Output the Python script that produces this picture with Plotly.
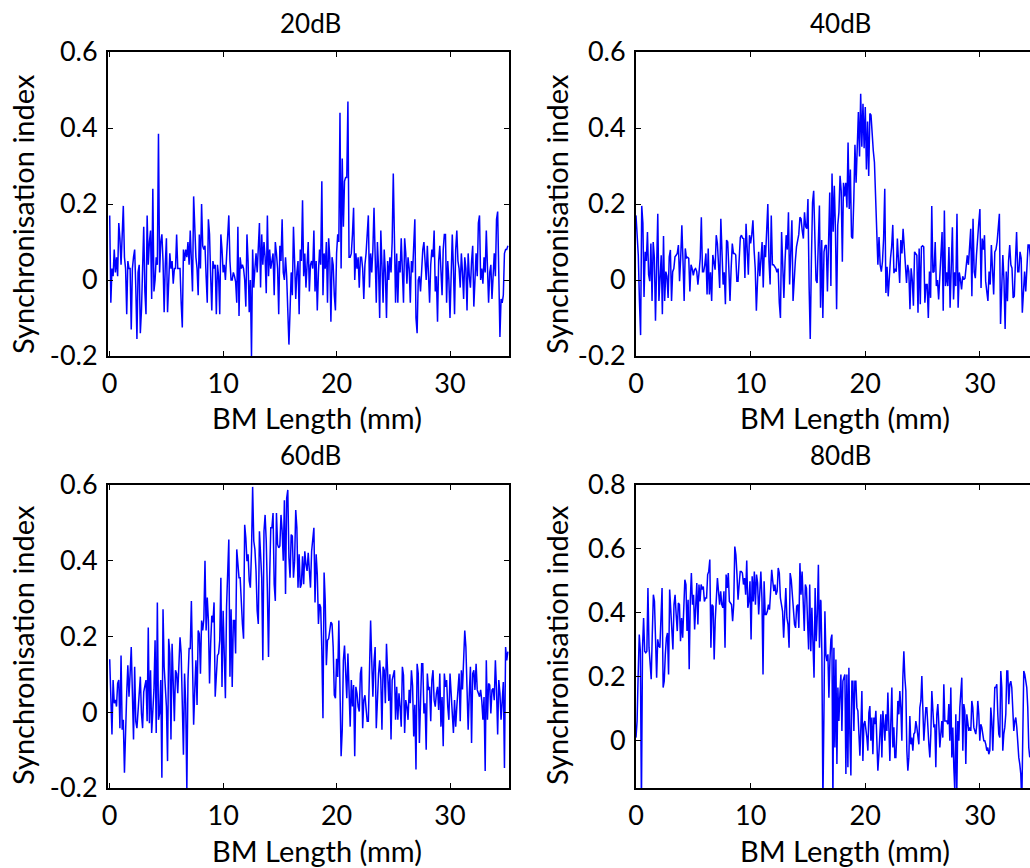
import numpy as np
import plotly.graph_objects as go

# ---------------- data ----------------
panel_titles = ["20dB", "40dB", "60dB", "80dB"]
x_title = "BM Length (mm)"
y_title = "Synchronisation index"
x_tick_vals = [0, 10, 20, 30]
x_tick_text = ["0", "10", "20", "30"]
y_tick_vals_a = [-0.2, 0, 0.2, 0.4, 0.6]
y_tick_text_a = ["-0.2", "0", "0.2", "0.4", "0.6"]
y_tick_vals_b = [0, 0.2, 0.4, 0.6, 0.8]
y_tick_text_b = ["0", "0.2", "0.4", "0.6", "0.8"]
step_mm = 0.1

si_20db = [
    0.17, -0.06, 0.03, 0.01, 0.08, 0.02, 0.06, 0.01, 0.15, 0.11,
    0.04, 0.12, 0.195, 0.06, 0.03, -0.09, 0.05, 0.03, 0.03, -0.13,
    0.03, 0.06, 0.08, -0.02, -0.155, 0.02, 0.04, -0.14, -0.08, 0.03,
    0.14, -0.03, -0.09, 0.17, 0.04, 0.10, 0.13, -0.05, 0.24, -0.03,
    0.0, 0.06, 0.04, 0.385, 0.02, 0.10, 0.12, 0.05, -0.085, 0.04,
    0.11, -0.085, 0.03, 0.07, 0.03, 0.05, -0.01, 0.03, 0.03, 0.12,
    0.03, 0.03, 0.03, -0.06, -0.125, 0.08, 0.05, 0.08, 0.06, 0.10,
    0.04, 0.13, 0.05, -0.03, 0.22, 0.10, 0.06, 0.03, -0.04, 0.12,
    0.03, 0.20, 0.09, 0.08, 0.09, 0.01, -0.06, 0.16, 0.12, 0.01,
    -0.08, 0.05, 0.03, 0.04, -0.09, 0.04, 0.01, -0.09, 0.12, 0.08,
    0.02, 0.04, 0.0, 0.06, 0.14, 0.17, 0.05, 0.0, 0.0, 0.02,
    0.01, -0.005, -0.06, 0.14, -0.095, 0.06, 0.03, 0.04, 0.03, 0.0,
    -0.07, 0.12, 0.05, -0.085, 0.0, -0.2, 0.08, -0.02, 0.03, 0.07,
    0.02, 0.09, 0.15, -0.02, 0.12, 0.04, 0.10, 0.06, -0.035, 0.17,
    0.01, 0.08, 0.03, 0.05, 0.07, -0.04, 0.10, 0.07, 0.03, -0.09,
    0.09, 0.05, 0.16, 0.02, 0.0, 0.06, 0.01, -0.08, -0.17, -0.08,
    0.02, -0.04, 0.14, 0.05, -0.05, 0.02, 0.05, -0.09, 0.08, 0.05,
    0.21, 0.01, 0.07, -0.02, 0.04, 0.10, -0.03, 0.04, 0.05, 0.03,
    0.13, -0.03, 0.05, -0.08, 0.02, 0.08, 0.04, 0.26, -0.04, 0.07,
    0.03, 0.10, -0.06, 0.11, 0.06, -0.11, 0.06, 0.04, -0.04, -0.08,
    0.07, 0.12, 0.10, 0.44, 0.03, 0.32, 0.14, 0.26, 0.27, 0.27,
    0.47, 0.06, 0.06, 0.07, 0.12, 0.19, 0.0, 0.07, 0.03, 0.06,
    -0.02, 0.06, 0.06, 0.03, -0.05, 0.04, 0.07, 0.13, 0.17, -0.02,
    0.07, 0.02, 0.08, 0.19, 0.07, -0.06, 0.10, 0.03, -0.10, 0.13,
    0.04, -0.06, 0.08, 0.02, -0.10, 0.05, 0.0, 0.06, 0.02, 0.10,
    0.28, 0.10, -0.06, 0.07, -0.06, 0.05, 0.02, 0.11, 0.03, -0.06,
    0.11, 0.07, -0.01, 0.06, 0.03, -0.06, 0.05, 0.02, 0.09, 0.16,
    -0.10, -0.14, 0.0, 0.01, -0.03, 0.05, 0.08, 0.10, 0.05, 0.0,
    0.09, 0.03, -0.06, 0.04, 0.08, 0.06, 0.13, -0.03, 0.01, -0.11,
    0.05, 0.09, 0.02, -0.04, 0.08, 0.12, 0.12, -0.06, 0.05, 0.0,
    -0.10, 0.04, 0.12, 0.03, -0.09, 0.08, 0.13, 0.05, 0.03, -0.02,
    0.07, 0.02, -0.05, 0.06, 0.03, -0.08, 0.07, 0.01, -0.02, 0.05,
    0.09, -0.07, 0.03, 0.07, 0.01, 0.15, 0.17, 0.0, 0.03, -0.01,
    0.06, 0.02, 0.13, 0.04, -0.06, 0.02, 0.04, -0.05, 0.03, 0.07,
    0.01, 0.16, 0.18, 0.02, -0.15, -0.05, -0.06, -0.04, 0.07, 0.08,
    0.08, 0.09,
]

si_40db = [
    0.17, 0.10, 0.065, -0.055, -0.145, 0.195, 0.15, -0.045, 0.074, 0.05,
    0.126, 0.014, -0.003, 0.096, -0.055, 0.1, 0.06, -0.107, 0.074, 0.174,
    -0.055, 0.03, 0.065, -0.09, 0.116, -0.055, 0.022, 0.01, -0.047, 0.061,
    0.079, -0.055, 0.022, 0.03, 0.061, 0.065, 0.07, 0.092, -0.003, 0.06,
    0.144, 0.05, -0.055, 0.083, 0.057, 0.06, 0.057, -0.03, 0.04, 0.03,
    0.012, 0.027, 0.03, 0.022, -0.012, 0.02, 0.057, 0.165, 0.022, 0.022,
    0.04, 0.07, -0.038, 0.083, -0.038, 0.02, -0.055, 0.066, 0.04, 0.027,
    0.118, 0.096, 0.04, -0.021, 0.161, 0.057, -0.012, 0.02, -0.064, 0.105,
    0.1, 0.03, -0.055, 0.031, 0.096, 0.07, 0.07, 0.066, -0.003, -0.003,
    0.06, 0.112, 0.118, 0.11, 0.109, 0.005, 0.148, 0.06, 0.014, 0.118,
    0.096, 0.12, 0.157, 0.08, 0.031, -0.081, 0.02, 0.074, 0.01, 0.05,
    0.10, -0.02, 0.092, 0.06, 0.152, 0.2, 0.05, -0.012, 0.17, 0.04,
    0.04, 0.035, 0.031, 0.02, 0.03, -0.06, -0.1, 0.126, 0.03, -0.047,
    0.048, 0.118, 0.08, 0.178, -0.012, 0.09, 0.157, -0.055, 0.022, 0.05,
    0.087, 0.109, 0.12, 0.165, 0.161, 0.13, 0.109, 0.178, 0.14, 0.135,
    0.213, -0.016, -0.155, 0.05, 0.204, 0.235, 0.1, 0.0, -0.008, 0.1,
    0.196, -0.073, 0.105, -0.1, 0.074, 0.09, 0.092, -0.03, 0.10, 0.23,
    -0.016, 0.28, 0.127, 0.248, 0.131, -0.077, 0.144, 0.178, 0.274, 0.235,
    0.048, 0.256, 0.22, 0.256, 0.191, 0.362, 0.187, 0.291, 0.114, 0.109,
    0.213, 0.356, 0.256, 0.36, 0.442, 0.325, 0.49, 0.351, 0.464, 0.347,
    0.455, 0.291, 0.417, 0.274, 0.438, 0.434, 0.377, 0.34, 0.31, 0.222,
    0.144, 0.04, 0.113, 0.04, 0.022, 0.048, 0.109, 0.24, -0.034, 0.035,
    -0.043, 0.03, 0.057, 0.087, 0.145, 0.018, 0.03, 0.022, 0.109, 0.05,
    -0.008, 0.105, 0.07, 0.135, 0.074, 0.03, -0.008, 0.04, 0.022, -0.077,
    0.031, 0.0, -0.068, 0.074, 0.07, 0.065, -0.086, 0.083, -0.064, 0.087,
    0.09, 0.087, -0.06, -0.012, -0.012, -0.1, 0.022, -0.047, 0.195, 0.02,
    0.022, 0.1, -0.016, 0.0, -0.051, 0.005, 0.06, 0.126, -0.081, 0.183,
    -0.016, 0.02, -0.016, 0.087, -0.073, 0.05, 0.139, -0.051, 0.02, -0.016,
    0.174, -0.073, 0.02, 0.001, -0.025, 0.01, 0.001, 0.005, 0.03, 0.065,
    0.04, 0.09, 0.135, -0.043, 0.161, 0.022, 0.005, 0.065, 0.126, 0.15,
    0.187, -0.021, 0.109, 0.08, 0.118, -0.003, -0.03, -0.055, 0.022, -0.012,
    0.092, 0.03, -0.038, 0.074, 0.08, 0.1, 0.152, 0.174, -0.116, -0.021,
    0.066, 0.0, -0.129, 0.022, -0.056, 0.05, 0.092, 0.04, 0.031, -0.047,
    -0.043, 0.05, 0.126, 0.022, 0.022, 0.074, 0.057, -0.086, -0.02, 0.022,
    -0.03, 0.05, 0.092, 0.092, 0.06, -0.08, -0.06, 0.02, 0.05, 0.03,
    0.04,
]

si_60db = [
    0.14, 0.033, -0.059, 0.085, 0.024, 0.033, 0.015, 0.076, 0.085, -0.042,
    0.15, -0.046, -0.02, -0.16, -0.024, 0.05, 0.124, 0.041, 0.102, 0.172,
    0.05, -0.072, 0.12, -0.024, -0.042, 0.015, 0.067, 0.094, -0.003, -0.042,
    0.054, 0.067, 0.085, -0.024, 0.224, -0.029, 0.111, -0.055, -0.003, 0.059,
    0.19, -0.055, 0.29, -0.02, -0.003, 0.085, -0.173, 0.272, 0.12, 0.076,
    0.015, -0.129, 0.194, 0.155, -0.072, 0.181, 0.067, -0.024, 0.111, 0.102,
    0.05, 0.14, 0.198, 0.155, 0.03, -0.112, 0.102, 0.024, -0.205, 0.085,
    0.168, 0.168, 0.294, 0.155, -0.033, 0.059, 0.137, 0.019, 0.216, 0.207,
    0.102, 0.242, 0.216, 0.246, 0.4, 0.216, 0.303, 0.242, 0.076, 0.18,
    0.255, 0.237, 0.29, 0.041, 0.102, 0.15, 0.155, 0.19, 0.355, 0.067,
    0.268, 0.128, 0.037, 0.277, 0.35, 0.456, 0.094, 0.272, 0.067, 0.242,
    0.242, 0.155, 0.43, 0.377, 0.355, 0.355, 0.272, 0.233, 0.194, 0.495,
    0.46, 0.399, 0.417, 0.347, 0.329, 0.425, 0.595, 0.452, 0.43, 0.373,
    0.268, 0.233, 0.478, 0.399, 0.355, 0.137, 0.478, 0.521, 0.452, 0.32,
    0.146, 0.355, 0.487, 0.487, 0.526, 0.338, 0.294, 0.526, 0.443, 0.434,
    0.439, 0.521, 0.48, 0.40, 0.56, 0.312, 0.565, 0.587, 0.408, 0.355,
    0.469, 0.465, 0.355, 0.399, 0.534, 0.487, 0.329, 0.417, 0.329, 0.338,
    0.412, 0.338, 0.425, 0.39, 0.373, 0.421, 0.38, 0.329, 0.425, 0.465,
    0.487, 0.29, 0.417, 0.364, 0.233, 0.286, 0.277, 0.163, -0.016, 0.369,
    0.294, 0.124, 0.19, 0.194, 0.22, 0.238, 0.233, 0.172, 0.045, 0.037,
    0.141, 0.093, 0.242, 0.085, -0.116, -0.046, 0.137, 0.176, 0.093, 0.037,
    0.155, 0.067, -0.038, 0.085, 0.015, 0.072, -0.116, 0.067, 0.05, 0.015,
    0.002, 0.102, 0.12, -0.042, 0.032, 0.045, 0.015, -0.024, -0.024, 0.102,
    0.242, 0.137, 0.041, 0.133, 0.172, -0.042, 0.059, 0.102, 0.137, 0.085,
    -0.046, 0.12, 0.111, 0.024, 0.181, 0.085, 0.03, 0.10, -0.072, 0.085,
    0.102, 0.111, -0.02, 0.067, -0.02, 0.05, 0.015, -0.038, 0.12, 0.098,
    -0.055, 0.032, 0.015, -0.02, 0.059, 0.024, 0.111, 0.07, -0.064, 0.02,
    -0.151, 0.128, 0.102, -0.081, 0.024, 0.128, 0.128, -0.003, 0.024, -0.099,
    0.102, 0.059, 0.067, -0.024, 0.085, 0.111, 0.032, 0.015, 0.05, 0.067,
    0.006, 0.102, -0.038, 0.04, -0.09, 0.102, 0.067, 0.085, 0.015, -0.02,
    0.102, 0.05, 0.015, -0.055, 0.032, -0.038, 0.015, 0.067, 0.102, -0.024,
    0.111, 0.06, 0.13, 0.216, 0.172, 0.015, -0.046, 0.05, 0.12, -0.081,
    0.102, 0.111, 0.059, 0.128, 0.059, 0.05, 0.041, 0.059, 0.03, -0.02,
    0.04, -0.155, 0.137, -0.02, 0.076, 0.072, -0.003, 0.059, 0.063, 0.032,
    0.137, 0.059, -0.059, 0.085, 0.05, -0.02, 0.03, 0.08, -0.147, 0.172,
    0.137, 0.16,
]

# 80 dB, read in two stretches: 0 - 16.1 mm and 16.1 - 34.35 mm
si_80db_apical = [
    0.008, 0.06, 0.206, 0.331, 0.279, -0.2, 0.29, 0.383, 0.279, 0.274,
    0.279, 0.477, 0.29, 0.238, 0.191, 0.331, 0.456, 0.435, 0.321, 0.196,
    0.316, 0.295, 0.29, 0.43, 0.477, 0.165, 0.185, 0.269, 0.321, 0.336,
    0.206, 0.472, 0.394, 0.352, 0.284, 0.425, 0.456, 0.394, 0.342, 0.43,
    0.425, 0.31, 0.383, 0.321, 0.415, 0.503, 0.488, 0.342, 0.44, 0.222,
    0.44, 0.524, 0.425, 0.456, 0.347, 0.456, 0.493, 0.363, 0.488, 0.435,
    0.488, 0.472, 0.482, 0.435, 0.446, 0.446, 0.519, 0.529, 0.566, 0.29,
    0.425, 0.42, 0.253, 0.378, 0.477, 0.508, 0.467, 0.425, 0.467, 0.425,
    0.415, 0.467, 0.29, 0.519, 0.477, 0.524, 0.435, 0.43, 0.425, 0.373,
    0.425, 0.607, 0.581, 0.519, 0.44, 0.488, 0.529, 0.529, 0.524, 0.488,
    0.508, 0.456, 0.563, 0.415, 0.435, 0.498, 0.316, 0.514, 0.435, 0.529,
    0.425, 0.519, 0.493, 0.394, 0.488, 0.529, 0.446, 0.206, 0.498, 0.394,
    0.394, 0.404, 0.425, 0.409, 0.467, 0.534, 0.498, 0.467, 0.488, 0.456,
    0.467, 0.54, 0.524, 0.446, 0.425, 0.404, 0.321, 0.42, 0.477, 0.383,
    0.363, 0.29, 0.524, 0.503, 0.456, 0.435, 0.363, 0.352, 0.42, 0.425,
    0.352, 0.555, 0.456, 0.529, 0.399, 0.342, 0.488, 0.477, 0.373, 0.284,
    0.488, 0.279, 0.415, 0.258, 0.196, 0.477, 0.31, 0.394, 0.55, 0.29,
    0.44,
]
si_80db_basal = [
    0.435, 0.264, -0.2, 0.071, 0.404, 0.269, 0.248, 0.269, 0.133, 0.248,
    0.316, 0.331, -0.2, 0.29, -0.023, 0.253, -0.075, 0.165, 0.06, 0.144,
    0.206, 0.029, 0.185, 0.196, 0.206, -0.106, 0.206, -0.085, 0.227, 0.014,
    -0.111, 0.185, 0.185, 0.029, 0.185, 0.185, 0.102, 0.092, 0.04, -0.049,
    0.04, 0.154, -0.065, 0.05, 0.06, 0.04, 0.008, -0.033, 0.086, 0.107,
    -0.002, 0.071, -0.044, 0.071, 0.05, 0.092, -0.033, -0.096, -0.044, 0.019,
    0.081, -0.054, 0.092, 0.05, -0.002, 0.081, 0.029, 0.149, 0.008, -0.065,
    0.06, 0.165, -0.023, 0.04, -0.054, -0.054, 0.029, 0.123, 0.081, 0.154,
    0.102, -0.002, 0.196, 0.279, 0.196, 0.154, -0.033, -0.096, -0.054, 0.076,
    -0.013, 0.008, -0.033, 0.019, 0.024, 0.06, 0.04, -0.002, -0.013, 0.102,
    0.123, 0.201, 0.123, -0.002, 0.05, 0.102, 0.102, 0.019, -0.013, -0.054,
    0.019, 0.154, 0.102, 0.04, 0.05, -0.085, 0.081, 0.113, 0.05, -0.023,
    0.019, 0.06, 0.008, 0.175, 0.06, 0.06, 0.06, 0.05, 0.113, -0.002,
    0.165, -0.054, 0.04, -0.085, -0.16, 0.081, -0.16, 0.06, -0.002, 0.102,
    0.165, 0.196, -0.033, 0.113, 0.092, -0.075, 0.081, 0.06, 0.029, 0.04,
    0.029, 0.123, 0.102, 0.04, 0.029, 0.019, 0.05, 0.123, 0.081, -0.002,
    0.05, 0.04, 0.019, -0.002, -0.002, -0.013, -0.033, -0.023, -0.044, -0.033,
    0.102, 0.06, -0.033, 0.081, 0.165, 0.165, 0.175, 0.081, 0.019, 0.008,
    0.217, 0.165, -0.033, 0.019, 0.04, 0.081, 0.217, 0.217, 0.113, 0.175,
    0.185, 0.165, 0.081, 0.029, 0.06, 0.071, 0.04, -0.013, -0.054, -0.075,
    -0.106, -0.2, 0.113, 0.217, 0.206, 0.185, 0.165, 0.102, -0.023, -0.054,
]
apical_span_mm = [0.0, 16.1]
basal_span_mm = [16.13, 34.35]

# ---------------- figure ----------------
W, H = 1030, 868
FONT = "Lato, 'Open Sans', sans-serif"
BLUE = "#0000FF"


def grid_x(values):
    return np.round(np.arange(len(values)) * step_mm, 2)


x80 = np.concatenate([
    np.linspace(apical_span_mm[0], apical_span_mm[1], len(si_80db_apical)),
    np.linspace(basal_span_mm[0], basal_span_mm[1], len(si_80db_basal)),
])
y80 = si_80db_apical + si_80db_basal

series = [
    (grid_x(si_20db), si_20db, "x", "y"),
    (grid_x(si_40db), si_40db, "x2", "y2"),
    (grid_x(si_60db), si_60db, "x3", "y3"),
    (x80, y80, "x4", "y4"),
]

fig = go.Figure()
for xs, ys, xa, ya in series:
    fig.add_trace(go.Scatter(x=xs, y=ys, mode="lines", xaxis=xa, yaxis=ya,
                             line=dict(color=BLUE, width=1.5),
                             showlegend=False, hoverinfo="skip"))


def px(v):
    return v / W


def py(v):
    return 1 - v / H


left_dom = [px(108), px(509)]
right_dom = [px(636), 1.0]
top_dom = [py(356), py(52)]
bot_dom = [py(788), py(485)]

tick_font = dict(family=FONT, size=27, color="black")
axis_common = dict(showline=True, linewidth=2, linecolor="black",
                   ticks="inside", ticklen=5, tickwidth=1, tickcolor="black",
                   showgrid=False, zeroline=False, tickfont=tick_font,
                   automargin=False)

xcfg = dict(axis_common, tickvals=x_tick_vals, ticktext=x_tick_text,
            mirror="ticks", ticklabelstandoff=3)
fig.update_layout(
    xaxis=dict(xcfg, domain=left_dom, range=[-0.15, 35.2], anchor="y"),
    xaxis2=dict(xcfg, domain=right_dom, range=[0, 34.37], anchor="y2"),
    xaxis3=dict(xcfg, domain=left_dom, range=[-0.15, 35.2], anchor="y3"),
    xaxis4=dict(xcfg, domain=right_dom, range=[0, 34.37], anchor="y4"),
    yaxis=dict(axis_common, domain=top_dom, range=[-0.2, 0.6], anchor="x",
               tickvals=y_tick_vals_a, ticktext=y_tick_text_a, mirror="ticks",
               ticklabelstandoff=3),
    yaxis2=dict(axis_common, domain=top_dom, range=[-0.2, 0.6], anchor="x2",
                tickvals=y_tick_vals_a, ticktext=y_tick_text_a, mirror=False,
                ticklabelstandoff=3),
    yaxis3=dict(axis_common, domain=bot_dom, range=[-0.2, 0.6], anchor="x3",
                tickvals=y_tick_vals_a, ticktext=y_tick_text_a, mirror="ticks",
                ticklabelstandoff=3),
    yaxis4=dict(axis_common, domain=bot_dom, range=[-0.15, 0.8], anchor="x4",
                tickvals=y_tick_vals_b, ticktext=y_tick_text_b, mirror=False,
                ticklabelstandoff=3),
)

annotations = []
title_pos = [(310, 23), (840, 23), (310, 455), (840, 455)]
for t, (ax, ay) in zip(panel_titles, title_pos):
    annotations.append(dict(text=t, x=px(ax), y=py(ay), xref="paper", yref="paper",
                            xanchor="center", yanchor="middle", showarrow=False,
                            font=dict(family=FONT, size=26, color="black")))
for ax, ay in [(317, 417), (845, 417), (317, 850), (845, 850)]:
    annotations.append(dict(text=x_title, x=px(ax), y=py(ay), xref="paper", yref="paper",
                            xanchor="center", yanchor="middle", showarrow=False,
                            font=dict(family=FONT, size=29, color="black")))
for ax, ay in [(22, 214), (556, 214), (22, 645), (556, 645)]:
    annotations.append(dict(text=y_title, x=px(ax), y=py(ay), xref="paper", yref="paper",
                            xanchor="center", yanchor="middle", showarrow=False,
                            textangle=-90,
                            font=dict(family=FONT, size=29, color="black")))

fig.update_layout(width=W, height=H, margin=dict(l=0, r=0, t=0, b=0, autoexpand=False),
                  paper_bgcolor="white", plot_bgcolor="white",
                  annotations=annotations, showlegend=False)

fig.write_html("out.html")
